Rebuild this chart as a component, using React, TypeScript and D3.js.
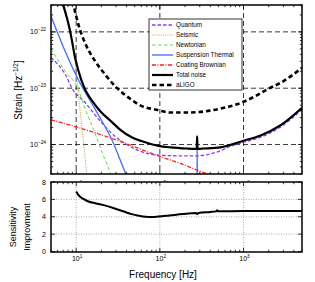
import * as d3 from "d3";

const W = 315;
const H = 282;
const left = 51;
const right = 302;
const topY0 = 5;
const topY1 = 174;
const botY0 = 182;
const botY1 = 252;
const FONT = "Liberation Sans, Arial, sans-serif";

// [frequency Hz, strain 1/sqrt(Hz)]
const quantum: [number, number][] = [
  [5, 3.5e-23], [7.4, 1.75e-23], [9.1, 9.5e-24], [12.5, 5.8e-24], [19.4, 2.6e-24],
  [30, 1.35e-24], [44, 9.3e-25], [58, 7.6e-25], [96, 6.5e-25], [185, 6.3e-25],
  [279, 6.3e-25], [460, 7.2e-25], [730, 9.5e-25], [1010, 1.1e-24], [1600, 1.35e-24],
  [2775, 2.05e-24], [5000, 4.2e-24],
];
const seismic: [number, number][] = [
  [7, 3.5e-22], [8.5, 1.0e-22], [9.7, 2.8e-23], [10.2, 1.4e-23], [11.2, 3.7e-24],
  [12.3, 1.0e-24], [13.4, 3.0e-25], [14, 1.6e-25],
];
const newtonian: [number, number][] = [
  [5, 5.0e-23], [7.4, 2.0e-23], [10.6, 9.5e-24], [12.2, 5.2e-24], [16.1, 1.86e-24],
  [21.2, 6.3e-25], [25.5, 3.2e-25], [30, 1.5e-25],
];
const suspension: [number, number][] = [
  [5, 1.9e-22], [7.4, 4.5e-23], [10.65, 1.4e-23], [16.9, 4.2e-24], [26.8, 1.2e-24],
  [38.6, 3.2e-25], [60, 8e-26], [275, 1e-27], [279, 1.38e-24], [283, 1e-27],
];
const coating: [number, number][] = [
  [5, 2.75e-24], [10.65, 2.0e-24], [29.4, 1.22e-24], [96, 6.3e-25], [185, 4.5e-25],
  [320, 3.25e-25], [500, 2.6e-25],
];
const totalNoise: [number, number][] = [
  [6.9, 3.2e-22], [8.5, 1.0e-22], [9.7, 3.5e-23], [11.5, 1.4e-23], [13, 9.0e-24],
  [16, 5.6e-24], [19.4, 3.9e-24], [26.8, 2.5e-24], [34, 1.8e-24], [46, 1.35e-24],
  [67, 1.1e-24], [96, 9.5e-25], [134, 8.9e-25], [212, 8.5e-25], [276, 8.4e-25],
  [279, 1.4e-24], [282, 8.4e-25], [335, 8.5e-25], [531, 8.9e-25], [1000, 1.17e-24],
  [1600, 1.45e-24], [2775, 2.2e-24], [5000, 4.5e-24],
];
const aligo: [number, number][] = [
  [9.5, 2.6e-22], [10.65, 1.33e-22], [12.8, 6.3e-23], [16.9, 3.0e-23], [22.2, 1.75e-23],
  [29.3, 1.08e-23], [42.3, 6.8e-24], [61, 4.8e-24], [88, 4.2e-24], [134, 3.7e-24],
  [212, 3.7e-24], [335, 3.85e-24], [531, 4.35e-24], [841, 5.2e-24], [1000, 5.75e-24],
  [1330, 7.0e-24], [1920, 9.5e-24], [3040, 1.35e-23], [5000, 2.3e-23],
];

// [frequency Hz, improvement factor]
const improvement: [number, number][] = [
  [10, 6.9], [10.65, 6.5], [12.2, 6.05], [14, 5.75], [16.9, 5.55], [23, 5.25],
  [32, 4.8], [37, 4.6], [46, 4.3], [58, 4.08], [67, 4.0], [80, 3.97], [96, 4.02],
  [130, 4.15], [190, 4.32], [270, 4.42], [279, 4.32], [290, 4.44], [400, 4.55],
  [470, 4.62], [484, 4.74], [500, 4.63], [700, 4.64], [1000, 4.66], [2000, 4.67],
  [5000, 4.67],
];

const xMajor = [10, 100, 1000];
const xExp = ["1", "2", "3"];
const yMajor = [1e-22, 1e-23, 1e-24];
const yExp = ["\u221222", "\u221223", "\u221224"];
const impTicks = [0, 2, 4, 6, 8];

const series = [
  { name: "Quantum", data: quantum, color: "#8a3cff", width: 1.3, dash: "3.5,2" },
  { name: "Seismic", data: seismic, color: "#c9a06a", width: 1.1, dash: "1,1.2" },
  { name: "Newtonian", data: newtonian, color: "#5de03c", width: 1.0, dash: "3.5,2.5" },
  { name: "Suspension Thermal", data: suspension, color: "#3d6cff", width: 1.3, dash: "" },
  { name: "Coating Brownian", data: coating, color: "#ff1f1f", width: 1.3, dash: "4,1.5,1,1.5" },
  { name: "Total noise", data: totalNoise, color: "#000", width: 2.2, dash: "" },
  { name: "aLIGO", data: aligo, color: "#000", width: 2.6, dash: "4.5,3" },
];

const x = d3.scaleLog().domain([5, 5000]).range([left, right]);
const y = d3.scaleLog().domain([3e-22, 3e-25]).range([topY0, topY1]);
const yImp = d3.scaleLinear().domain([0, 8]).range([botY1 - 0.5, botY0]);

const xMinor: number[] = [];
for (const dec of [1, 10, 100, 1000]) {
  for (let k = 2; k <= 9; k++) {
    const v = k * dec;
    if (v >= 5 && v <= 5000) xMinor.push(v);
  }
}
const yMinor: number[] = [];
for (const dec of [1e-25, 1e-24, 1e-23, 1e-22]) {
  for (let k = 2; k <= 9; k++) {
    const v = k * dec;
    if (v >= 3e-25 && v <= 3e-22) yMinor.push(v);
  }
}

const line = d3
  .line<[number, number]>()
  .x((d) => x(d[0]))
  .y((d) => y(d[1]))
  .curve(d3.curveMonotoneX);

const impLine = d3
  .line<[number, number]>()
  .x((d) => x(d[0]))
  .y((d) => yImp(d[1]))
  .curve(d3.curveMonotoneX);

function XTicks({ y0, y1 }: { y0: number; y1: number }) {
  return (
    <g stroke="#000" strokeWidth={0.8}>
      {xMajor.map((v) => (
        <g key={"M" + v}>
          <line x1={x(v)} x2={x(v)} y1={y1} y2={y1 - 4} />
          <line x1={x(v)} x2={x(v)} y1={y0} y2={y0 + 4} />
        </g>
      ))}
      {xMinor.map((v) => (
        <g key={"m" + v}>
          <line x1={x(v)} x2={x(v)} y1={y1} y2={y1 - 2.2} />
          <line x1={x(v)} x2={x(v)} y1={y0} y2={y0 + 2.2} />
        </g>
      ))}
    </g>
  );
}

export default function App() {
  return (
    <svg
      width={W}
      height={H}
      viewBox={`0 0 ${W} ${H}`}
      style={{ position: "absolute", left: 0, top: 0, background: "#fff" }}
      fontFamily={FONT}
    >
      <defs>
        <clipPath id="clipTop">
          <rect x={left} y={topY0} width={right - left} height={topY1 - topY0} />
        </clipPath>
        <clipPath id="clipBot">
          <rect x={left} y={botY0} width={right - left} height={botY1 - botY0} />
        </clipPath>
      </defs>

      {/* top panel x labels, mostly hidden behind the lower panel */}
      <g fontSize={7} textAnchor="middle" fill="#000">
        {xMajor.map((v, i) => (
          <text key={v} x={x(v) + 1} y={187}>
            10<tspan dy={-3.5} fontSize={4.8}>{xExp[i]}</tspan>
          </text>
        ))}
      </g>

      {/* ===== top panel ===== */}
      <rect x={left} y={topY0} width={right - left} height={topY1 - topY0} fill="#fff" />
      <g stroke="#222" strokeWidth={0.9} strokeDasharray="5,3">
        {xMajor.map((v) => (
          <line key={v} x1={x(v)} x2={x(v)} y1={topY0} y2={topY1} />
        ))}
        {yMajor.map((v) => (
          <line key={v} x1={left} x2={right} y1={y(v)} y2={y(v)} />
        ))}
      </g>
      <g clipPath="url(#clipTop)" fill="none" strokeLinejoin="round">
        {series.map((s) => (
          <path
            key={s.name}
            d={line(s.data) || ""}
            stroke={s.color}
            strokeWidth={s.width}
            strokeDasharray={s.dash || undefined}
          />
        ))}
      </g>
      <XTicks y0={topY0} y1={topY1} />
      <g stroke="#000" strokeWidth={0.8}>
        {yMajor.map((v) => (
          <g key={v}>
            <line x1={left} x2={left + 4} y1={y(v)} y2={y(v)} />
            <line x1={right} x2={right - 4} y1={y(v)} y2={y(v)} />
          </g>
        ))}
        {yMinor.map((v) => (
          <g key={v}>
            <line x1={left} x2={left + 2.2} y1={y(v)} y2={y(v)} />
            <line x1={right} x2={right - 2.2} y1={y(v)} y2={y(v)} />
          </g>
        ))}
      </g>
      <g fontSize={7} textAnchor="end" fill="#000">
        {yMajor.map((v, i) => (
          <text key={v} x={46} y={y(v) + 2.5}>
            10<tspan dy={-3.5} fontSize={4.8}>{yExp[i]}</tspan>
          </text>
        ))}
      </g>

      {/* legend */}
      <g>
        <rect x={149} y={19} width={93} height={71} fill="#fff" stroke="#000" strokeWidth={0.8} />
        {series.map((s, i) => (
          <g key={s.name}>
            <line
              x1={152}
              x2={173}
              y1={25 + i * 10}
              y2={25 + i * 10}
              stroke={s.color}
              strokeWidth={s.width}
              strokeDasharray={s.dash || undefined}
            />
            <text x={176} y={27.2 + i * 10} fontSize={6.3} fill="#000">
              {s.name}
            </text>
          </g>
        ))}
      </g>
      <rect x={left} y={topY0} width={right - left} height={topY1 - topY0} fill="none" stroke="#000" strokeWidth={1.5} />

      {/* ===== bottom panel ===== */}
      <rect x={left - 2} y={botY0 - 1} width={right - left + 4} height={botY1 - botY0 + 2} fill="#fff" />
      <g stroke="#888" strokeWidth={0.7} strokeDasharray="1,1.5">
        {xMajor.map((v) => (
          <line key={v} x1={x(v)} x2={x(v)} y1={botY0} y2={botY1} />
        ))}
        {[2, 4, 6].map((v) => (
          <line key={v} x1={left} x2={right} y1={yImp(v)} y2={yImp(v)} />
        ))}
      </g>
      <path
        d={impLine(improvement) || ""}
        clipPath="url(#clipBot)"
        fill="none"
        stroke="#000"
        strokeWidth={2}
        strokeLinejoin="round"
      />
      <XTicks y0={botY0} y1={botY1} />
      <g stroke="#000" strokeWidth={0.8}>
        {impTicks.map((v) => (
          <g key={v}>
            <line x1={left} x2={left + 4} y1={yImp(v)} y2={yImp(v)} />
            <line x1={right} x2={right - 4} y1={yImp(v)} y2={yImp(v)} />
          </g>
        ))}
      </g>
      <rect x={left} y={botY0} width={right - left} height={botY1 - botY0} fill="none" stroke="#000" strokeWidth={1.5} />
      <g fontSize={7} textAnchor="end" fill="#000">
        {impTicks.map((v) => (
          <text key={v} x={46} y={yImp(v) + 2.5}>
            {v}
          </text>
        ))}
      </g>
      <g fontSize={7} textAnchor="middle" fill="#000">
        {xMajor.map((v, i) => (
          <text key={v} x={x(v) + 1} y={261}>
            10<tspan dy={-3.5} fontSize={4.8}>{xExp[i]}</tspan>
          </text>
        ))}
      </g>

      {/* axis titles */}
      <text x={163} y={278} fontSize={10} textAnchor="middle" fill="#000">
        Frequency [Hz]
      </text>
      <text transform="translate(22,90) rotate(-90)" fontSize={10} textAnchor="middle" fill="#000">
        Strain [Hz<tspan dy={-4} fontSize={6.5}>{"\u22121/2"}</tspan>
        <tspan dy={4}>]</tspan>
      </text>
      <text transform="translate(16,227) rotate(-90)" fontSize={9} textAnchor="middle" fill="#000">
        Sensitivity
      </text>
      <text transform="translate(30,227) rotate(-90)" fontSize={9} textAnchor="middle" fill="#000">
        Improvment
      </text>
    </svg>
  );
}
